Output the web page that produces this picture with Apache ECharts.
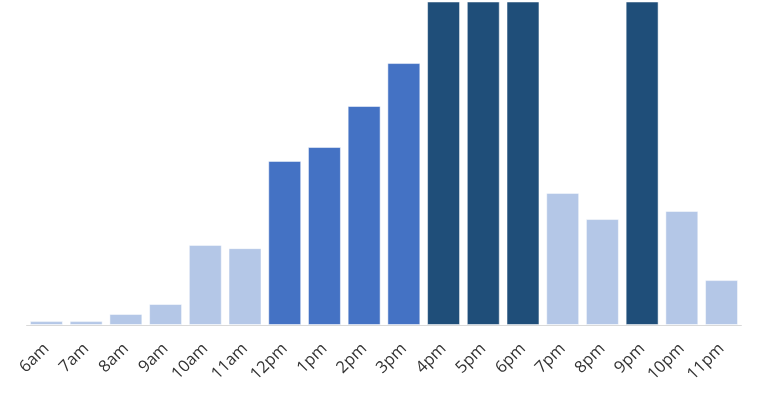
<!DOCTYPE html>
<html>
<head>
<meta charset="utf-8">
<style>html,body{margin:0;padding:0;background:#fff}#c{width:765px;height:400px}</style>
<script src="https://cdn.jsdelivr.net/npm/echarts@6/dist/echarts.min.js"></script>
</head>
<body>
<div id="c"></div>
<script>
const hours = ['6am','7am','8am','9am','10am','11am','12pm','1pm','2pm','3pm','4pm','5pm','6pm','7pm','8pm','9pm','10pm','11pm'];
const traffic = [1.2, 1.2, 3.4, 6.5, 24.8, 23.8, 50.8, 55.1, 67.8, 81.1, 125, 135, 120, 40.9, 32.8, 115, 35.3, 13.9];
const level = ['low','low','low','low','low','low','mid','mid','mid','mid','high','high','high','low','low','high','low','low'];
const levelColors = { low: '#b4c7e7', mid: '#4472c4', high: '#1f4e79' };

const chart = echarts.init(document.getElementById('c'), null, { renderer: 'canvas' });
chart.setOption({
  animation: false,
  grid: { left: 26.6, right: 23.6, top: 2, bottom: 75 },
  xAxis: {
    type: 'category',
    data: hours,
    axisTick: { show: false },
    axisLine: { lineStyle: { color: '#d9d9d9', width: 1 } },
    axisLabel: {
      rotate: 45, interval: 0, margin: 21,
      color: '#333333', fontSize: 16.5, fontFamily: 'Open Sans'
    }
  },
  yAxis: { type: 'value', min: 0, max: 100, show: false, splitLine: { show: false } },
  series: [{
    type: 'bar',
    barCategoryGap: '17%',
    clip: true,
    data: traffic.map((v, i) => ({
      value: v,
      itemStyle: { color: levelColors[level[i]], borderColor: 'rgba(255,255,255,0.5)', borderWidth: 1 }
    }))
  }]
});
</script>
</body>
</html>
